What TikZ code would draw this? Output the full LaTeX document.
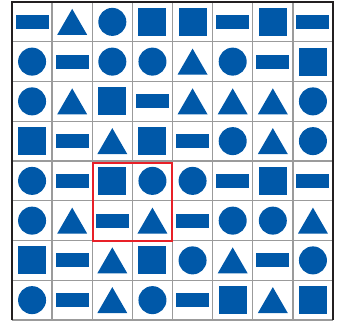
\documentclass[tikz,border=0pt]{standalone}
\usetikzlibrary{shapes.geometric}
\definecolor{TileBlue}{RGB}{0,88,168}
\definecolor{GridGray}{RGB}{155,155,155}
\definecolor{FrameDark}{RGB}{35,31,32}
\definecolor{MarkRed}{RGB}{232,32,40}
\tikzset{
  bar/.style={fill=TileBlue,inner sep=0pt,minimum width=33pt,minimum height=14pt},
  tri/.style={fill=TileBlue,regular polygon,regular polygon sides=3,inner sep=0pt,
    minimum size=34.6pt,yshift=-4.3pt},
  disc/.style={fill=TileBlue,circle,inner sep=0pt,minimum size=28pt},
  sq/.style={fill=TileBlue,inner sep=0pt,minimum size=28pt},
  gridline/.style={GridGray,line width=1.4pt},
  frame/.style={FrameDark,line width=2.8pt},
  pickbox/.style={MarkRed,line width=2.6pt}
}

\begin{document}
\begin{tikzpicture}[x=1pt,y=-1pt]

\path[use as bounding box] (0,0) rectangle (342,322);

% cell lines
\foreach \i in {1,...,7}
  \draw[gridline] ({12+40.125*\i},2) -- ({12+40.125*\i},320);
\foreach \j in {1,...,8}
  \draw[gridline] (12,{2+39.75*\j}) -- (333,{2+39.75*\j});
\draw[frame] (12,320) -- (12,2) -- (333,2) -- (333,320);

% tiles, row by row
\foreach \row [count=\r] in {
  {bar,tri,disc,sq,sq,bar,sq,bar},
  {disc,bar,disc,disc,tri,disc,bar,sq},
  {disc,tri,sq,bar,tri,tri,tri,disc},
  {sq,bar,tri,sq,bar,disc,tri,disc},
  {disc,bar,sq,disc,disc,bar,sq,bar},
  {disc,tri,bar,tri,bar,disc,disc,tri},
  {sq,bar,tri,sq,disc,tri,bar,disc},
  {disc,bar,tri,disc,bar,sq,tri,sq}}
  \foreach \s [count=\c] in \row
    \node[style=\s] (t-\r-\c) at ({12+40.125*(\c-0.5)},{2+39.75*(\r-0.5)}) {};

% marked block
\draw[pickbox] (93,163) rectangle (172,241);

\end{tikzpicture}
\end{document}
